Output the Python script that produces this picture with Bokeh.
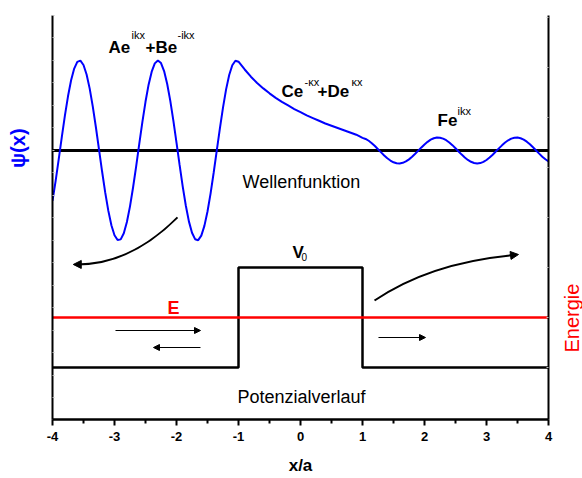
import numpy as np
from bokeh.plotting import figure
from bokeh.layouts import row
from bokeh.models import (Range1d, LinearAxis, FixedTicker, Label, Arrow, NormalHead)
from bokeh.embed import file_html
from bokeh.resources import INLINE

# ---------------- data ----------------
# wave function, left region x = -4 ... -1 (step 0.05)
psi_left_x = np.linspace(-4.0, -1.0, 61)
psi_left = [-0.561, -0.341, -0.099, 0.149, 0.387, 0.602, 0.780, 0.910, 0.984, 0.998,
            0.950, 0.844, 0.687, 0.487, 0.258, 0.012, -0.234, -0.466, -0.669, -0.831,
            -0.942, -0.996, -0.988, -0.920, -0.795, -0.621, -0.409, -0.173, 0.075, 0.318,
            0.541, 0.731, 0.876, 0.968, 1.000, 0.971, 0.882, 0.739, 0.551, 0.329,
            0.086, -0.161, -0.399, -0.612, -0.788, -0.915, -0.986, -0.997, -0.946, -0.838,
            -0.678, -0.476, -0.245, 0.001, 0.246, 0.477, 0.679, 0.838, 0.947, 0.997,
            0.986]
# barrier region x = -0.9 ... 0.9 (step 0.1)
psi_mid_x = np.linspace(-0.9, 0.9, 19)
psi_mid = [0.90, 0.82, 0.75, 0.69, 0.635, 0.585, 0.54, 0.50, 0.46, 0.425,
           0.39, 0.36, 0.33, 0.30, 0.275, 0.25, 0.225, 0.20, 0.175]
# right region x = 1 ... 4 (step 0.05)
psi_right_x = np.linspace(1.0, 4.0, 61)
psi_right = [0.140, 0.128, 0.108, 0.081, 0.049, 0.014, -0.021, -0.056, -0.087, -0.112,
             -0.131, -0.142, -0.144, -0.137, -0.122, -0.099, -0.070, -0.037, -0.002, 0.034,
             0.067, 0.096, 0.120, 0.136, 0.143, 0.142, 0.132, 0.114, 0.089, 0.059,
             0.025, -0.011, -0.046, -0.078, -0.105, -0.126, -0.139, -0.144, -0.140, -0.127,
             -0.106, -0.079, -0.047, -0.012, 0.023, 0.057, 0.088, 0.113, 0.132, 0.142,
             0.144, 0.136, 0.121, 0.098, 0.069, 0.035, 0.000, -0.035, -0.069, -0.098,
             -0.121]

psi_base_x = [-4, 4]
psi_base = [0, 0]

# potential (energy units)
pot_x = [-4, -1, -1, 1, 1, 4]
pot_v = [1, 1, 3, 3, 1, 1]
E_x = [-4, 4]
E_level = [2, 2]

x_ticks = [-4, -3, -2, -1, 0, 1, 2, 3, 4]
x_tick_labels = ["-4", "-3", "-2", "-1", "0", "1", "2", "3", "4"]
x_minor = [-3.5, -2.5, -1.5, -0.5, 0.5, 1.5, 2.5, 3.5]
psi_ticks = [-2.75, -2.5, -2.25, -2.0, -1.75, -1.5, -1.25, -1.0, -0.75, -0.5,
             -0.25, 0.0, 0.25, 0.5, 0.75, 1.0, 1.25, 1.5]
energy_ticks = [1, 2, 3, 4, 5, 6, 7, 8]

# annotation arrows
straight_arrows = [  # x_start, x_end, energy level
    (-2.984, -1.613, 1.74),
    (-1.613, -2.371, 1.40),
    (1.258, 2.016, 1.60),
]
curve_l = dict(x0=-1.984, y0=-0.744, cx=-2.742, cy=-1.267, x1=-3.60, y1=-1.267)
head_l = (-3.58, -3.665, -1.267, -1.267)
curve_r = dict(x0=1.194, y0=2.34, cx=2.097, cy=3.10, x1=3.45, y1=3.25)
head_r = (3.40, 3.516, 3.243, 3.26)

FONT = "Liberation Sans"
W_LEFT, W_MAIN, W_RIGHT, H = 30, 526, 26, 478

# ---------------- main figure ----------------
p = figure(width=W_MAIN, height=H, x_range=Range1d(-4, 4), y_range=Range1d(-2.99, 1.5),
           output_backend="svg", toolbar_location=None, tools="",
           min_border_left=22, min_border_right=8, min_border_top=15, min_border_bottom=59)
p.outline_line_color = None
p.grid.visible = False
p.background_fill_color = "white"
p.border_fill_color = "white"

p.extra_y_ranges = {"energy": Range1d(-0.04, 8.04)}

# x axis
xa = p.xaxis[0]
xa.ticker = FixedTicker(ticks=x_ticks, minor_ticks=x_minor)
xa.major_label_overrides = {t: l for t, l in zip(x_ticks, x_tick_labels)}
xa.axis_line_width = 2.5
xa.major_tick_line_width = 2
xa.minor_tick_line_width = 2
xa.major_tick_out = 6
xa.major_tick_in = 0
xa.minor_tick_out = 4
xa.minor_tick_in = 0
xa.major_label_text_font = FONT
xa.major_label_text_font_style = "bold"
xa.major_label_text_font_size = "13px"
xa.major_label_text_color = "black"
xa.major_label_standoff = 6
xa.axis_label = "x/a"
xa.axis_label_text_font = FONT
xa.axis_label_text_font_style = "bold"
xa.axis_label_text_font_size = "17px"
xa.axis_label_text_color = "black"
xa.axis_label_standoff = 12

# left psi axis: only small faint inner ticks, no labels
ya = p.yaxis[0]
ya.ticker = FixedTicker(ticks=[], minor_ticks=psi_ticks)
ya.axis_line_width = 2
ya.minor_tick_in = 2
ya.minor_tick_out = 0
ya.minor_tick_line_color = "#c0c0c0"
ya.major_label_standoff = 0

# right energy axis
ra = LinearAxis(y_range_name="energy", ticker=FixedTicker(ticks=[], minor_ticks=energy_ticks))
ra.axis_line_width = 2
ra.minor_tick_in = 2
ra.minor_tick_out = 0
ra.minor_tick_line_color = "#c0c0c0"
ra.major_label_standoff = 0
p.add_layout(ra, "right")

# lines
p.line(psi_base_x, psi_base, line_color="black", line_width=3)
p.line(list(psi_left_x) + list(psi_mid_x) + list(psi_right_x),
       psi_left + psi_mid + psi_right, line_color="#0000ff", line_width=2)
p.line(pot_x, pot_v, y_range_name="energy", line_color="black", line_width=2.5)
p.line(E_x, E_level, y_range_name="energy", line_color="#ff0000", line_width=2.5)

# curved arrows
p.quadratic(**curve_l, line_color="black", line_width=2)
p.add_layout(Arrow(x_start=head_l[0], x_end=head_l[1], y_start=head_l[2], y_end=head_l[3],
                   line_color="black", line_width=2,
                   end=NormalHead(size=8, fill_color="black", line_color="black", line_width=1)))
p.quadratic(**curve_r, y_range_name="energy", line_color="black", line_width=2)
p.add_layout(Arrow(x_start=head_r[0], x_end=head_r[1], y_start=head_r[2], y_end=head_r[3],
                   y_range_name="energy", line_color="black", line_width=2,
                   end=NormalHead(size=8, fill_color="black", line_color="black", line_width=1)))
for xs, xe, yy in straight_arrows:
    p.add_layout(Arrow(x_start=xs, x_end=xe, y_start=yy, y_end=yy, y_range_name="energy",
                       line_color="black", line_width=1,
                       end=NormalHead(size=6, fill_color="black", line_color="black", line_width=1)))


def lab(fig, x, y, t, size, bold=False, color="black", yr="default", angle=0, align="left",
        baseline="alphabetic"):
    fig.add_layout(Label(x=x, y=y, text=t, text_font=FONT, text_font_size=f"{size}px",
                         text_font_style="bold" if bold else "normal", text_color=color,
                         y_range_name=yr, angle=angle, text_align=align,
                         text_baseline=baseline))


lab(p, -3.097, 1.144, "Ae", 17, True)
lab(p, -2.726, 1.278, "ikx", 11)
lab(p, -2.500, 1.144, "+Be", 17, True)
lab(p, -1.984, 1.278, "-ikx", 11)
lab(p, -0.306, 0.656, "Ce", 17, True)
lab(p, 0.065, 0.756, "-κx", 11)
lab(p, 0.274, 0.656, "+De", 17, True)
lab(p, 0.823, 0.756, "κx", 11)
lab(p, 2.21, 0.333, "Fe", 17, True)
lab(p, 2.532, 0.444, "ikx", 11)
lab(p, -0.935, -0.356, "Wellenfunktion", 18)
lab(p, -0.129, 3.30, "V", 17, True, yr="energy")
lab(p, 0.016, 3.22, "0", 10, yr="energy")
lab(p, -2.145, 2.20, "E", 18, True, color="#ff0000", yr="energy")
lab(p, -1.016, 0.42, "Potenzialverlauf", 18, yr="energy")


# ---------------- side panels for the rotated axis titles ----------------
def side(width):
    f = figure(width=width, height=H, x_range=Range1d(0, width), y_range=Range1d(H, 0),
               output_backend="svg", toolbar_location=None, tools="",
               x_axis_type=None, y_axis_type=None,
               min_border_left=0, min_border_right=0, min_border_top=0, min_border_bottom=0)
    f.outline_line_color = None
    f.grid.visible = False
    f.background_fill_color = "white"
    f.border_fill_color = "white"
    return f


left = side(W_LEFT)
lab(left, 17, 157, "ψ(x)", 20, True, color="#0000ff", angle=np.pi / 2, align="center",
    baseline="middle")
right = side(W_RIGHT)
lab(right, 15, 358, "Energie", 20, color="#ff0000", angle=np.pi / 2, align="center",
    baseline="middle")

layout = row(left, p, right, spacing=0)
open("out.html", "w").write(file_html(layout, INLINE))
